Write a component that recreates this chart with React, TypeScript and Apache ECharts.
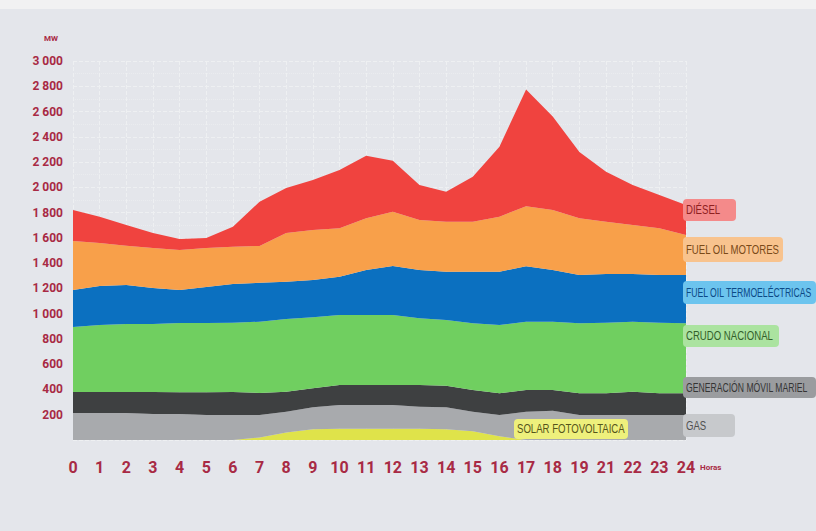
import React, { useEffect, useRef } from "react";
import * as echarts from "echarts";

const hours = ["0","1","2","3","4","5","6","7","8","9","10","11","12","13","14","15","16","17","18","19","21","22","23","24"];
const solar = [0,0,0,0,0,0,0,20,60,85,90,90,90,90,85,70,30,0,0,0,0,0,0,0];
const gas = [214,214,214,206,206,198,198,178,164,174,187,187,187,174,174,154,168,224,232,198,198,198,198,198];
const movil = [166,166,166,174,171,179,182,174,158,150,158,158,158,171,171,172,172,172,164,172,172,184,172,172];
const crudo = [515,530,538,538,549,549,549,564,576,562,555,555,555,528,520,528,540,540,540,554,559,554,559,554];
const termo = [292,309,309,285,261,285,306,309,295,296,303,356,387,383,382,408,422,439,410,382,385,378,377,382];
const motores = [388,340,311,317,317,309,295,291,386,395,383,409,430,396,396,396,436,475,475,449,414,388,370,317];
const diesel = [246,209,164,119,87,79,158,350,356,396,461,495,403,277,238,356,554,925,739,525,396,317,264,237];

const seriesNames = ["SOLAR FOTOVOLTAICA","GAS","GENERACIÓN MÓVIL MARIEL","CRUDO NACIONAL","FUEL OIL TERMOELÉCTRICAS","FUEL OIL MOTORES","DIÉSEL"];
const seriesColors = ["#dfe34a","#a8aaad","#3e4041","#70cf60","#0b70c0","#f8a04a","#f0433f"];

const FONT = "Roboto, 'Liberation Sans', sans-serif";
const TAGFONT = "'Liberation Sans', Roboto, sans-serif";
const CRIMSON = "#a82a44";

function tag(x: number, y: number, w: number, h: number, bg: string, fg: string, text: string, sx: number) {
  return {
    type: "group",
    z: 100,
    children: [
      { type: "rect", z: 100, shape: { x, y, width: w, height: h, r: 4 }, style: { fill: bg } },
      {
        type: "text",
        z: 101,
        x: x + 3,
        y: y + h / 2,
        scaleX: sx,
        style: { text, fill: fg, font: `12px ${TAGFONT}`, verticalAlign: "middle", align: "left" },
      },
    ],
  };
}

export default function App() {
  const ref = useRef<HTMLDivElement>(null);
  useEffect(() => {
    if (!ref.current) return;
    const chart = echarts.init(ref.current, undefined, { renderer: "svg" });
    const data = [solar, gas, movil, crudo, termo, motores, diesel];
    chart.setOption({
      animation: false,
      backgroundColor: "#e4e6eb",
      grid: { left: 73, right: 130, top: 61, bottom: 91 },
      xAxis: {
        type: "category",
        data: hours,
        boundaryGap: false,
        axisLine: { show: false },
        axisTick: { show: false },
        axisLabel: { interval: 0, color: CRIMSON, fontFamily: FONT, fontWeight: "bold", fontSize: 16, margin: 19 },
        splitLine: { show: true, interval: 0, lineStyle: { color: "#eef0f2", width: 1, type: "dashed" } },
      },
      yAxis: {
        type: "value",
        min: 0,
        max: 3000,
        interval: 200,
        axisLine: { show: false },
        axisTick: { show: false },
        axisLabel: {
          color: CRIMSON,
          fontFamily: FONT,
          fontWeight: "bold",
          fontSize: 12,
          margin: 10,
          formatter: (v: number) => (v === 0 ? "" : v >= 1000 ? `${Math.floor(v / 1000)} ${String(v % 1000).padStart(3, "0")}` : String(v)),
        },
        splitLine: { show: true, lineStyle: { color: "#eef0f2", width: 1, type: "dashed" } },
        minorTick: { show: false, splitNumber: 2 },
        minorSplitLine: { show: true, lineStyle: { color: "#eaecef", width: 1, type: "dotted" } },
      },
      series: data.map((d, i) => ({
        name: seriesNames[i],
        type: "line",
        stack: "total",
        data: d,
        symbol: "none",
        smooth: false,
        lineStyle: { width: 0 },
        areaStyle: { color: seriesColors[i], opacity: 1 },
        itemStyle: { color: seriesColors[i] },
        z: 2,
      })),
      graphic: [
        { type: "rect", shape: { x: 0, y: 0, width: 816, height: 9 }, style: { fill: "#f1f1f2" } },
        { type: "text", x: 44, y: 38, style: { text: "MW", fill: CRIMSON, font: `bold 8px ${FONT}`, verticalAlign: "middle" } },
        { type: "text", x: 700, y: 467, style: { text: "Horas", fill: CRIMSON, font: `bold 8px ${FONT}`, verticalAlign: "middle" } },
        tag(683, 199, 53, 22, "#f48a8a", "#8e2020", "DIÉSEL", 0.8),
        tag(683, 237, 100, 25, "#f8c38e", "#7a4a18", "FUEL OIL MOTORES", 0.8),
        tag(683, 281, 133, 23, "#6cc4ee", "#0c4a86", "FUEL OIL TERMOELÉCTRICAS", 0.72),
        tag(683, 325, 96, 22, "#abe3a0", "#33602a", "CRUDO NACIONAL", 0.8),
        tag(683, 377, 133, 21, "#9a9c9f", "#353535", "GENERACIÓN MÓVIL MARIEL", 0.72),
        tag(683, 414, 52, 23, "#c7c9cc", "#505050", "GAS", 0.8),
        tag(514, 419, 114, 20, "#eef07c", "#55541a", "SOLAR FOTOVOLTAICA", 0.8),
      ],
    });
    return () => chart.dispose();
  }, []);
  return <div ref={ref} style={{ position: "fixed", left: 0, top: 0, width: 816, height: 531 }} />;
}
